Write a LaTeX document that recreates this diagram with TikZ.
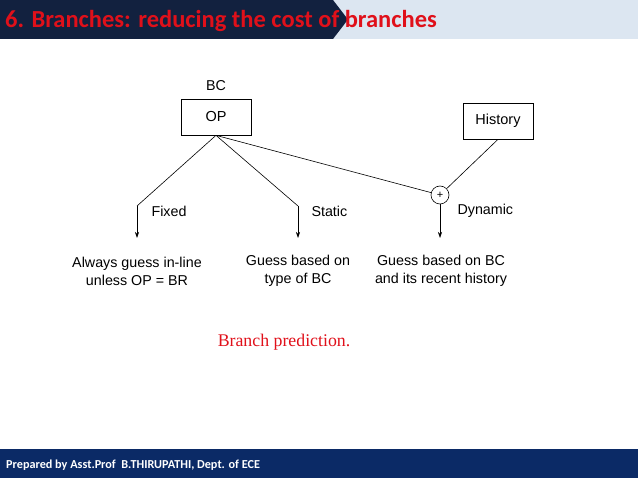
\documentclass[tikz,border=0pt]{standalone}
\usepackage{fontspec}
\setmainfont{Liberation Sans}
\newfontfamily\carl{Carlito}
\newfontfamily\tnr{Liberation Serif}
\usetikzlibrary{arrows.meta}
\definecolor{navy}{HTML}{12213F}
\definecolor{foot}{HTML}{0B2A66}
\definecolor{light}{HTML}{DCE6F1}
\definecolor{tred}{HTML}{E0101A}
\tikzset{
  box/.style={draw,line width=0.7pt,minimum width=70pt,minimum height=36pt,font=\fontsize{14.5}{16}\selectfont,inner sep=0},
  lbl/.style={font=\fontsize{14.3}{18}\selectfont,align=center},
  conn/.style={line width=0.6pt},
  arr/.style={line width=0.6pt,-{Stealth[length=6pt,width=4pt]}}
}
\begin{document}
\begin{tikzpicture}[x=1pt,y=-1pt]
\useasboundingbox (0,0) rectangle (638,478);
\fill[light] (0,0) rectangle (638,39);
\fill[navy] (0,0) -- (333,0) -- (348,19.5) -- (333,39) -- (0,39) -- cycle;
\node[anchor=base west,text=tred,font=\carl\bfseries\fontsize{24.5}{26}\selectfont,inner sep=0] (title) at (5,28) {6. Branches: reducing the cost of branches};
\fill[foot] (0,449) rectangle (638,478);
\node[anchor=base west,text=white,font=\carl\bfseries\fontsize{12.2}{14}\selectfont,inner sep=0] (footer) at (6,469) {Prepared by Asst.Prof\ \ B.THIRUPATHI, Dept. of ECE};

\node[box] (op) at (216,117) {OP};
\node[lbl] (bc) at (216,86) {BC};
\node[box] (hist) at (498,121) {History};
\node[draw,circle,line width=0.6pt,minimum size=18pt,inner sep=0,font=\fontsize{11}{11}\selectfont] (plus) at (440,195) {+};

\coordinate (f1) at (137,206);
\coordinate (s1) at (298,206);
\node[lbl] (fixedt) at (137,271) {Always guess in-line\\unless OP = BR};
\node[lbl] (statict) at (298,271) {Guess based on\\type of BC};
\node[lbl] (dynt) at (441,271) {Guess based on BC\\and its recent history};
\coordinate (fa) at (137,238);
\coordinate (sa) at (298,238);
\coordinate (da) at (440,238);

\draw[conn] (op.south) -- (f1);
\draw[arr] (f1) -- (fa);
\draw[conn] (op.south) -- (s1);
\draw[arr] (s1) -- (sa);
\draw[conn] (op.south) -- (plus);
\draw[conn] (hist.south) -- (plus);
\draw[arr] (plus) -- (da);

\node[lbl,anchor=west] (fixed) at (148,211) {Fixed};
\node[lbl,anchor=west] (static) at (308,211) {Static};
\node[lbl,anchor=west] (dyn) at (454,211) {Dynamic};

\node[text=tred,font=\tnr\fontsize{17.8}{20}\selectfont] (cap) at (284,342) {Branch prediction.};
\end{tikzpicture}
\end{document}
